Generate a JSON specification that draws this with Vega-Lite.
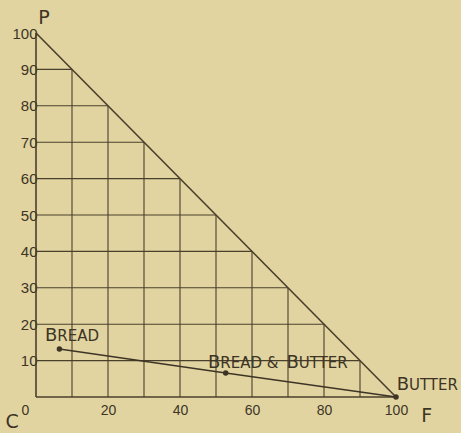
{
  "$schema": "https://vega.github.io/schema/vega-lite/v6.json",
  "width": 360,
  "height": 364,
  "autosize": "none",
  "padding": {"left": 36, "top": 33, "right": 65, "bottom": 36},
  "background": "#E1D4A0",
  "config": {"view": {"stroke": null}, "font": "DejaVu Sans"},
  "datasets": {
    "segments": [
      {"kind": "grid", "x": 0, "y": 10, "x2": 90, "y2": 10},
      {"kind": "grid", "x": 0, "y": 20, "x2": 80, "y2": 20},
      {"kind": "grid", "x": 0, "y": 30, "x2": 70, "y2": 30},
      {"kind": "grid", "x": 0, "y": 40, "x2": 60, "y2": 40},
      {"kind": "grid", "x": 0, "y": 50, "x2": 50, "y2": 50},
      {"kind": "grid", "x": 0, "y": 60, "x2": 40, "y2": 60},
      {"kind": "grid", "x": 0, "y": 70, "x2": 30, "y2": 70},
      {"kind": "grid", "x": 0, "y": 80, "x2": 20, "y2": 80},
      {"kind": "grid", "x": 0, "y": 90, "x2": 10, "y2": 90},
      {"kind": "grid", "x": 10, "y": 0, "x2": 10, "y2": 90},
      {"kind": "grid", "x": 20, "y": 0, "x2": 20, "y2": 80},
      {"kind": "grid", "x": 30, "y": 0, "x2": 30, "y2": 70},
      {"kind": "grid", "x": 40, "y": 0, "x2": 40, "y2": 60},
      {"kind": "grid", "x": 50, "y": 0, "x2": 50, "y2": 50},
      {"kind": "grid", "x": 60, "y": 0, "x2": 60, "y2": 40},
      {"kind": "grid", "x": 70, "y": 0, "x2": 70, "y2": 30},
      {"kind": "grid", "x": 80, "y": 0, "x2": 80, "y2": 20},
      {"kind": "grid", "x": 90, "y": 0, "x2": 90, "y2": 10},
      {"kind": "frame", "x": 0, "y": 100, "x2": 100, "y2": 0},
      {"kind": "frame", "x": 0, "y": 0, "x2": 100, "y2": 0},
      {"kind": "frame", "x": 0, "y": 0, "x2": 0, "y2": 100}
    ],
    "foods": [
      {"food": "Bread", "x": 6.5, "y": 13.2},
      {"food": "Bread & Butter", "x": 52.7, "y": 6.6},
      {"food": "Butter", "x": 100, "y": 0}
    ],
    "lettering": [
      {"piece": "B", "case": "capital", "x": 2.5, "y": 15.4},
      {"piece": "READ", "case": "small", "x": 5.9, "y": 15.4},
      {"piece": "B", "case": "capital", "x": 47.8, "y": 8.0},
      {"piece": "READ &", "case": "small", "x": 51.2, "y": 8.0},
      {"piece": "B", "case": "capital", "x": 69.6, "y": 8.0},
      {"piece": "UTTER", "case": "small", "x": 73.0, "y": 8.0},
      {"piece": "B", "case": "capital", "x": 100.2, "y": 1.9},
      {"piece": "UTTER", "case": "small", "x": 103.6, "y": 1.9}
    ],
    "corners": [
      {"name": "P", "x": 2.2, "y": 104},
      {"name": "C", "x": -6.6, "y": -6.9},
      {"name": "F", "x": 108.5, "y": -5.2}
    ]
  },
  "layer": [
    {
      "data": {"name": "segments"},
      "mark": {"type": "rule", "color": "#4a3f2c"},
      "encoding": {
        "x": {"field": "x", "type": "quantitative", "scale": {"domain": [0, 100], "nice": false},
          "axis": {"domain": false, "grid": false, "ticks": false, "values": [0, 10, 20, 30, 40, 50, 60, 70, 80, 90, 100], "labelFont": "Liberation Sans", "labelFontSize": 14, "labelColor": "#3d3426", "labelPadding": 6, "title": null, "labelFlush": false,
            "labelOffset": {"condition": {"test": "datum.value === 0", "value": -11}, "value": 0}}},
        "y": {"field": "y", "type": "quantitative", "scale": {"domain": [0, 100], "nice": false},
          "axis": {"domain": false, "grid": false, "ticks": false, "values": [10, 20, 30, 40, 50, 60, 70, 80, 90, 100], "labelFont": "Liberation Sans", "labelFontSize": 15, "labelColor": "#3d3426", "labelPadding": -1, "title": null, "labelFlush": false}},
        "x2": {"field": "x2"},
        "y2": {"field": "y2"},
        "strokeWidth": {"field": "kind", "type": "nominal", "scale": {"domain": ["grid", "frame"], "range": [1.1, 1.6]}, "legend": null}
      }
    },
    {
      "data": {"name": "foods"},
      "mark": {"type": "line", "color": "#3d3426", "strokeWidth": 1.5},
      "encoding": {
        "x": {"field": "x", "type": "quantitative"},
        "y": {"field": "y", "type": "quantitative"}
      }
    },
    {
      "data": {"name": "foods"},
      "mark": {"type": "circle", "color": "#3d3426", "opacity": 1, "size": 30},
      "encoding": {
        "x": {"field": "x", "type": "quantitative"},
        "y": {"field": "y", "type": "quantitative"}
      }
    },
    {
      "data": {"name": "lettering"},
      "mark": {"type": "text", "color": "#3d3426", "align": "left", "baseline": "alphabetic", "font": "DejaVu Sans"},
      "encoding": {
        "x": {"field": "x", "type": "quantitative"},
        "y": {"field": "y", "type": "quantitative"},
        "text": {"field": "piece"},
        "size": {"field": "case", "type": "nominal", "scale": {"domain": ["capital", "small"], "range": [18, 15]}, "legend": null}
      }
    },
    {
      "data": {"name": "corners"},
      "mark": {"type": "text", "color": "#3d3426", "align": "center", "baseline": "middle", "font": "DejaVu Sans"},
      "encoding": {
        "x": {"field": "x", "type": "quantitative"},
        "y": {"field": "y", "type": "quantitative"},
        "text": {"field": "name"},
        "size": {"value": 19}
      }
    }
  ]
}
